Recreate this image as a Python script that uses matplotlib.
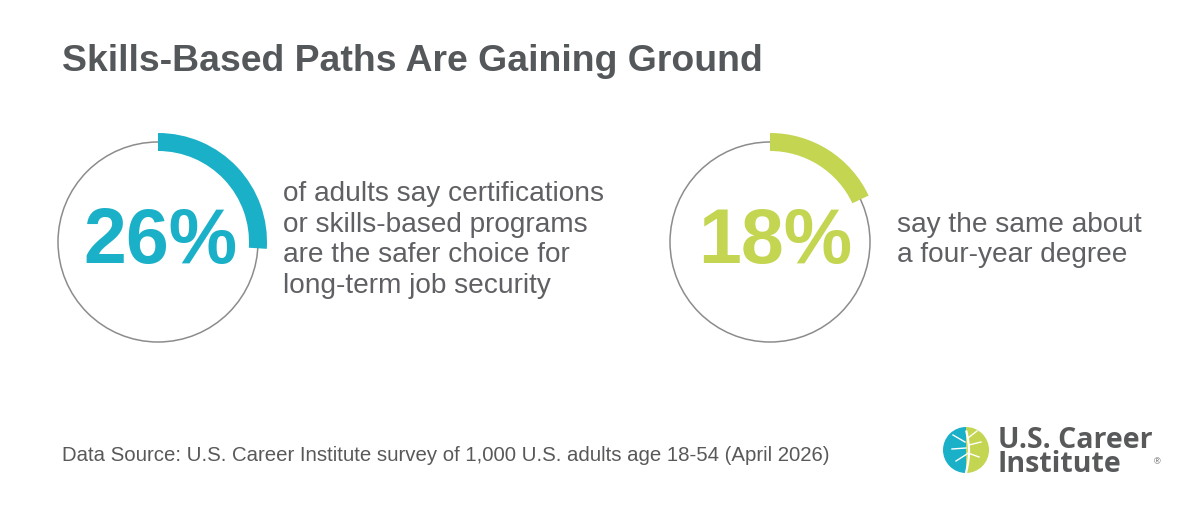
import numpy as np
import matplotlib
matplotlib.use('Agg')
import matplotlib.pyplot as plt
from matplotlib.patches import Circle, Wedge

# values
pcts = [26, 18]
pct_labels = ['26%', '18%']
arc_colors = ['#1AB0C8', '#C4D552']
descriptions = [
    ['of adults say certifications', 'or skills-based programs',
     'are the safer choice for', 'long-term job security'],
    ['say the same about', 'a four-year degree'],
]
title = 'Skills-Based Paths Are Gaining Ground'
source = 'Data Source: U.S. Career Institute survey of 1,000 U.S. adults age 18-54 (April 2026)'

W, H = 1200, 518
PX = 72 / 100  # px -> pt at dpi 100
gray = '#58595B'

fig = plt.figure(figsize=(W / 100, H / 100), dpi=100)
ax = fig.add_axes([0, 0, 1, 1])
ax.set_xlim(0, W)
ax.set_ylim(H, 0)
ax.set_aspect('equal')
ax.axis('off')
plt.rcParams['font.family'] = ['Liberation Sans', 'DejaVu Sans']

ax.text(62, 71, title, fontsize=37.4 * PX, fontweight='bold', color='#55585B', va='baseline')

centers = [(158, 242), (770, 242)]
text_x = [283, 897]
r = 100
for i, p in enumerate(pcts):
    cx, cy = centers[i]
    ax.add_patch(Circle((cx, cy), r, fill=False, ec='#8C8C8C', lw=1.1))
    ax.add_patch(Wedge((cx, cy), r + 9, -90, -90 + 3.6 * p, width=18,
                       fc=arc_colors[i], ec='none'))
    ax.text(cx + 2 + 3 * i, 263, pct_labels[i], fontsize=77 * PX, fontweight='bold',
            color=arc_colors[i], ha='center', va='baseline')
    lines = descriptions[i]
    n = len(lines)
    for j, line in enumerate(lines):
        y = 247 + (j - (n - 1) / 2) * 30.7
        ax.text(text_x[i], y, line, fontsize=28 * PX, color='#5E6063', va='baseline')

ax.text(62, 461, source, fontsize=20.4 * PX, color=gray, va='baseline')

# logo
lx, ly, lr = 966, 450, 23
ax.add_patch(Wedge((lx, ly), lr, 90, 270, fc='#1AB0C8', ec='none'))
ax.add_patch(Wedge((lx, ly), lr, -90, 90, fc='#C4D552', ec='none'))
t = np.linspace(0, 1, 30)
ax.plot(lx + 3 * np.sin(t * 3), ly + lr - t * 2 * lr * 0.9, color='white', lw=1.6)
for bx, by, dx, dy in [(-1, -8, -12, -7), (0, -2, -14, 1), (1, 4, -11, 7),
                       (2, -12, 9, -7), (3, -5, 12, -3), (2, 3, 11, 4)]:
    ax.plot([lx + bx, lx + bx + dx], [ly + by, ly + by + dy], color='white', lw=1.0)
logo_font = ['Open Sans', 'DejaVu Sans']
name = ax.text(998, 472, 'U.S. Career\nInstitute', fontsize=28.5 * PX, fontweight='bold',
               color=gray, family=logo_font, va='baseline', linespacing=0.78)
fig.canvas.draw()
bb = name.get_window_extent().transformed(ax.transData.inverted())
ax.text(bb.x1 + 1, 464, '®', fontsize=9 * PX, color=gray, va='baseline')

fig.savefig('out.png', dpi=100)
